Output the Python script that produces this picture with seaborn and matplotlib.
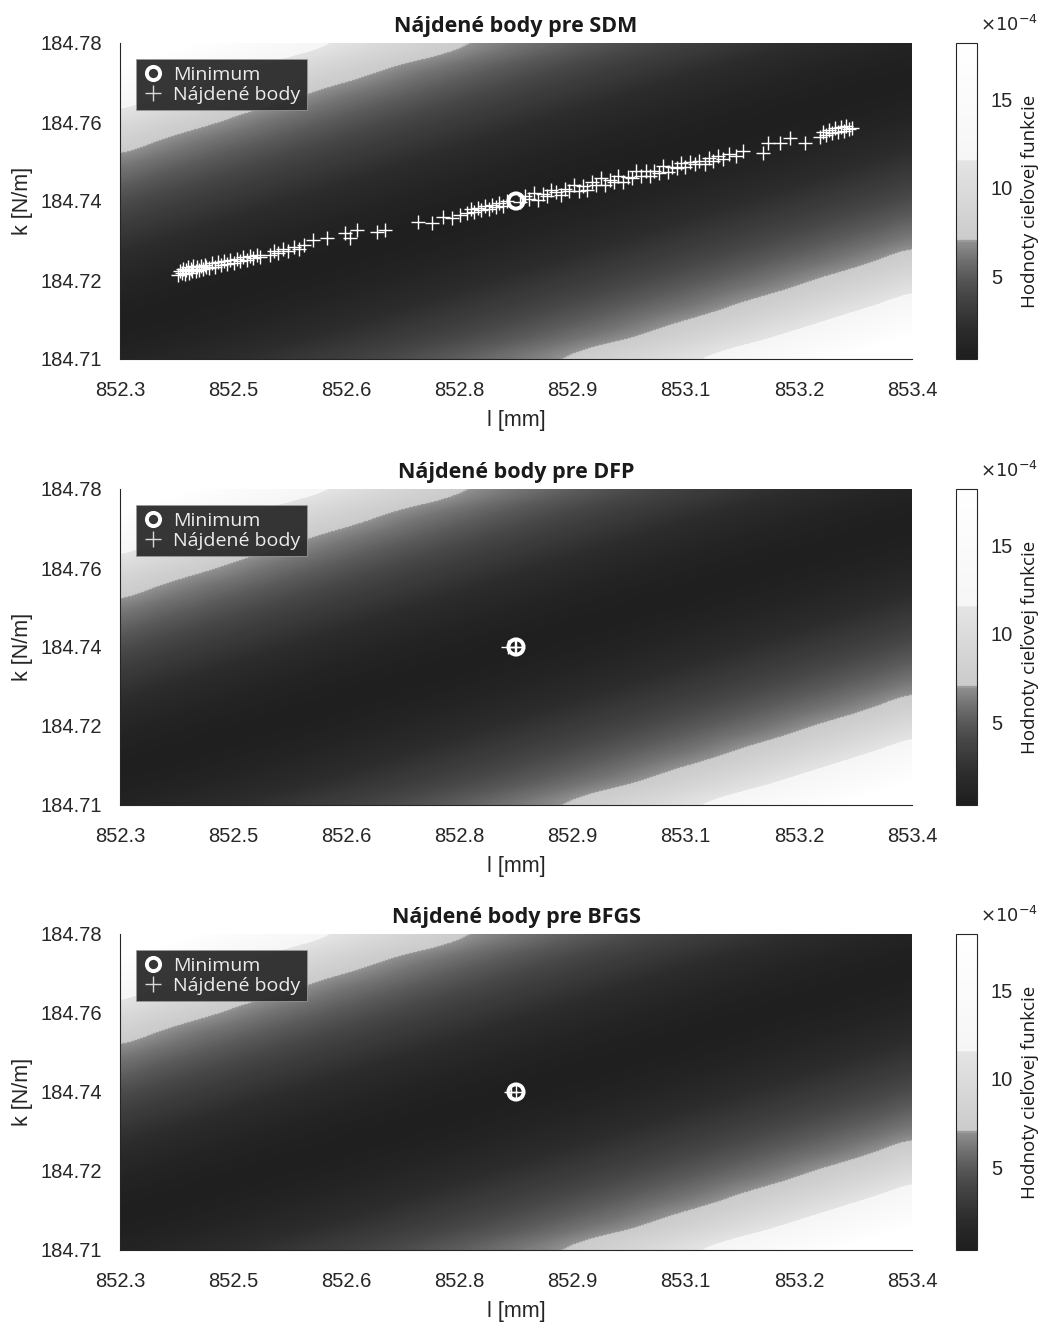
import numpy as np
import matplotlib
matplotlib.use("Agg")
import matplotlib.pyplot as plt
from matplotlib.colors import LinearSegmentedColormap
from matplotlib.lines import Line2D
import seaborn as sns

# --- data -----------------------------------------------------------------
# objective function on a grid (units of 1e-4)
l_grid = [852.30, 852.35, 852.40, 852.45, 852.50, 852.55, 852.60, 852.65, 852.70, 852.75, 852.80, 852.85,
          852.90, 852.95, 853.00, 853.05, 853.10, 853.15, 853.20, 853.25, 853.30, 853.35, 853.40]
k_grid = [184.710, 184.715, 184.720, 184.725, 184.730, 184.735, 184.740, 184.745,
          184.750, 184.755, 184.760, 184.765, 184.770, 184.775, 184.780]
f_grid = [
    [0.98, 1.26, 1.58, 1.95, 2.36, 2.80, 3.28, 3.78, 4.33, 4.90, 5.50, 6.13, 6.78, 7.63, 8.70, 9.91, 11.28, 12.80, 14.48, 16.31, 18.29, 20.43, 22.72],
    [0.58, 0.75, 0.98, 1.26, 1.58, 1.95, 2.36, 2.80, 3.28, 3.78, 4.33, 4.90, 5.50, 6.13, 6.78, 7.63, 8.70, 9.91, 11.28, 12.80, 14.48, 16.31, 18.29],
    [0.58, 0.50, 0.58, 0.75, 0.98, 1.26, 1.58, 1.95, 2.36, 2.80, 3.28, 3.78, 4.33, 4.90, 5.50, 6.13, 6.78, 7.63, 8.70, 9.91, 11.28, 12.80, 14.48],
    [0.98, 0.75, 0.58, 0.50, 0.58, 0.75, 0.98, 1.26, 1.58, 1.95, 2.36, 2.80, 3.28, 3.78, 4.33, 4.90, 5.50, 6.13, 6.78, 7.63, 8.70, 9.91, 11.28],
    [1.58, 1.26, 0.98, 0.75, 0.58, 0.50, 0.58, 0.75, 0.98, 1.26, 1.58, 1.95, 2.36, 2.80, 3.28, 3.78, 4.33, 4.90, 5.50, 6.13, 6.78, 7.63, 8.70],
    [2.36, 1.95, 1.58, 1.26, 0.98, 0.75, 0.58, 0.50, 0.58, 0.75, 0.98, 1.26, 1.58, 1.95, 2.36, 2.80, 3.28, 3.78, 4.33, 4.90, 5.50, 6.13, 6.78],
    [3.28, 2.80, 2.36, 1.95, 1.58, 1.26, 0.98, 0.75, 0.58, 0.50, 0.58, 0.75, 0.98, 1.26, 1.58, 1.95, 2.36, 2.80, 3.28, 3.78, 4.33, 4.90, 5.50],
    [4.33, 3.78, 3.28, 2.80, 2.36, 1.95, 1.58, 1.26, 0.98, 0.75, 0.58, 0.50, 0.58, 0.75, 0.98, 1.26, 1.58, 1.95, 2.36, 2.80, 3.28, 3.78, 4.33],
    [5.50, 4.90, 4.33, 3.78, 3.28, 2.80, 2.36, 1.95, 1.58, 1.26, 0.98, 0.75, 0.58, 0.50, 0.58, 0.75, 0.98, 1.26, 1.58, 1.95, 2.36, 2.80, 3.28],
    [6.78, 6.13, 5.50, 4.90, 4.33, 3.78, 3.28, 2.80, 2.36, 1.95, 1.58, 1.26, 0.98, 0.75, 0.58, 0.50, 0.58, 0.75, 0.98, 1.26, 1.58, 1.95, 2.36],
    [8.70, 7.63, 6.78, 6.13, 5.50, 4.90, 4.33, 3.78, 3.28, 2.80, 2.36, 1.95, 1.58, 1.26, 0.98, 0.75, 0.58, 0.50, 0.58, 0.75, 0.98, 1.26, 1.58],
    [11.28, 9.91, 8.70, 7.63, 6.78, 6.13, 5.50, 4.90, 4.33, 3.78, 3.28, 2.80, 2.36, 1.95, 1.58, 1.26, 0.98, 0.75, 0.58, 0.50, 0.58, 0.75, 0.98],
    [14.48, 12.80, 11.28, 9.91, 8.70, 7.63, 6.78, 6.13, 5.50, 4.90, 4.33, 3.78, 3.28, 2.80, 2.36, 1.95, 1.58, 1.26, 0.98, 0.75, 0.58, 0.50, 0.58],
    [18.29, 16.31, 14.48, 12.80, 11.28, 9.91, 8.70, 7.63, 6.78, 6.13, 5.50, 4.90, 4.33, 3.78, 3.28, 2.80, 2.36, 1.95, 1.58, 1.26, 0.98, 0.75, 0.58],
    [22.72, 20.43, 18.29, 16.31, 14.48, 12.80, 11.28, 9.91, 8.70, 7.63, 6.78, 6.13, 5.50, 4.90, 4.33, 3.78, 3.28, 2.80, 2.36, 1.95, 1.58, 1.26, 0.98],
]

min_l = [852.85]
min_k = [184.745]

# found points - SDM
sdm_l = [852.381, 852.384, 852.386, 852.388, 852.390, 852.392, 852.394, 852.396, 852.398, 852.400,
         852.402, 852.405, 852.407, 852.410, 852.412, 852.415, 852.418, 852.420,
         852.424, 852.428, 852.432, 852.436, 852.440, 852.444, 852.449, 852.453, 852.458, 852.462,
         852.466, 852.471, 852.476, 852.480, 852.485, 852.490, 852.495,
         852.508, 852.514, 852.520, 852.527, 852.534, 852.541, 852.548, 852.556,
         852.568, 852.5875, 852.6125, 852.619, 852.629, 852.657, 852.668, 852.714, 852.733, 852.749, 852.761, 852.772,
         852.782, 852.787, 852.792, 852.797, 852.802, 852.807, 852.812, 852.817, 852.822, 852.827, 852.832, 852.838,
         852.856, 852.862, 852.868, 852.875, 852.881, 852.887, 852.893, 852.899, 852.906, 852.912,
         852.918, 852.924, 852.930, 852.937, 852.943, 852.949, 852.955, 852.961, 852.968, 852.974,
         852.980, 852.986, 852.992, 852.999, 853.005, 853.011, 853.017, 853.023, 853.030, 853.036,
         853.042, 853.048, 853.054, 853.061, 853.067, 853.073, 853.079, 853.085, 853.092, 853.098, 853.104,
         853.112, 853.118, 853.124, 853.131, 853.138, 853.146, 853.155, 853.165,
         853.193, 853.200, 853.2167, 853.2306, 853.2514,
         853.272, 853.276, 853.281, 853.285, 853.289, 853.293, 853.297, 853.301, 853.305, 853.309, 853.313, 853.317]
sdm_k = [184.7286, 184.7296, 184.7290, 184.7300, 184.7289, 184.7297, 184.7303, 184.7291, 184.7300, 184.7294,
         184.7305, 184.7296, 184.7303, 184.7298, 184.7307, 184.7300, 184.7309, 184.7303,
         184.7301, 184.7312, 184.7304, 184.7315, 184.7308, 184.7316, 184.7310, 184.7319, 184.7313, 184.7322,
         184.7316, 184.7327, 184.7320, 184.7329, 184.7323, 184.7331, 184.7327,
         184.7330, 184.7339, 184.7334, 184.7344, 184.7339, 184.7348, 184.7343, 184.7352,
         184.7364, 184.7368, 184.7379, 184.7368, 184.7386, 184.7381, 184.7386, 184.7403, 184.7401, 184.7415, 184.7412, 184.7419,
         184.7423, 184.7433, 184.7426, 184.7435, 184.7430, 184.7439, 184.7433, 184.7442, 184.7437, 184.7446, 184.7440, 184.7449,
         184.7447, 184.7460, 184.7454, 184.7467, 184.7453, 184.7466, 184.7461, 184.7474, 184.7469, 184.7463,
         184.7477, 184.7472, 184.7485, 184.7473, 184.7483, 184.7475, 184.7491, 184.7486, 184.7500, 184.7486,
         184.7497, 184.7492, 184.7505, 184.7492, 184.7503, 184.7500, 184.7516, 184.7506, 184.7516, 184.7506,
         184.7517, 184.7513, 184.7527, 184.7515, 184.7526, 184.7524, 184.7534, 184.7525, 184.7536, 184.7531, 184.7538,
         184.7533, 184.7546, 184.7538, 184.7550, 184.7542, 184.7555, 184.7549, 184.7561,
         184.7556, 184.7578, 184.7578, 184.7590, 184.7578,
         184.7592, 184.7603, 184.7596, 184.7608, 184.7600, 184.7612, 184.7603, 184.7614, 184.7606, 184.7617, 184.7609, 184.7612]

# found points - DFP, BFGS (all sit on the minimum)
dfp_l = [852.839, 852.848, 852.850]
dfp_k = [184.745, 184.745, 184.7451]
bfgs_l = [852.843, 852.850]
bfgs_k = [184.745, 184.745]

methods = ["SDM", "DFP", "BFGS"]
points = {"SDM": (sdm_l, sdm_k), "DFP": (dfp_l, dfp_k), "BFGS": (bfgs_l, bfgs_k)}

x_ticklabels = ["852.3", "852.5", "852.6", "852.8", "852.9", "853.1", "853.2", "853.4"]
y_ticklabels = ["184.71", "184.72", "184.74", "184.76", "184.78"]
cbar_ticks = [5, 10, 15]

# --- style ----------------------------------------------------------------
sns.set_style("white")
plt.rcParams["font.family"] = ["Liberation Sans", "DejaVu Sans"]
ui_font = ["Open Sans", "DejaVu Sans"]

vmin, vmax = 0.3, 18.2
def pos(v):
    return (v - vmin) / (vmax - vmin)

# grey map: dark ramp, step to light grey at ~7, step to white at ~11.5
cmap = LinearSegmentedColormap.from_list("objgray", [
    (0.0, "#1e1e1e"), (pos(2.0), "#2c2c2c"), (pos(4.0), "#474747"), (pos(5.0), "#5a5a5a"),
    (pos(6.0), "#737373"), (pos(6.95), "#909090"),
    (pos(7.05), "#cbcbcb"), (pos(11.5), "#e4e4e4"), (pos(11.6), "#f6f6f6"), (1.0, "#ffffff")])
cmap.set_over("#ffffff")
cmap.set_under("#1e1e1e")

fig = plt.figure(figsize=(10.42, 13.24), dpi=100)
W, H = 1042, 1324
ax_tops = [43, 489, 934]
ax_h = 316

dl = (l_grid[1] - l_grid[0]) / 2
dk = (k_grid[1] - k_grid[0]) / 2
extent = [l_grid[0] - dl, l_grid[-1] + dl, k_grid[0] - dk, k_grid[-1] + dk]

for method, top in zip(methods, ax_tops):
    ax = fig.add_axes([120 / W, 1 - (top + ax_h) / H, 792 / W, ax_h / H])
    cax = fig.add_axes([956 / W, 1 - (top + ax_h) / H, 21 / W, ax_h / H])

    im = ax.imshow(np.array(f_grid), origin="lower", extent=extent, aspect="auto",
                   cmap=cmap, vmin=vmin, vmax=vmax, interpolation="catrom",
                   interpolation_stage="data")

    pl, pk = points[method]
    sns.scatterplot(x=pl, y=pk, ax=ax, marker="+", color="white", s=90,
                    linewidth=1.0, zorder=3, legend=False)
    ax.scatter(min_l, min_k, marker="o", s=120, facecolor="none",
               edgecolor="white", linewidth=2.8, zorder=4)

    ax.set_xlim(l_grid[0], l_grid[-1])
    ax.set_ylim(k_grid[0], k_grid[-1])
    ax.set_xticks(np.linspace(l_grid[0], l_grid[-1], len(x_ticklabels)))
    ax.set_xticklabels(x_ticklabels)
    ax.set_yticks(np.linspace(k_grid[0], k_grid[-1], len(y_ticklabels)))
    ax.set_yticklabels(y_ticklabels)
    ax.tick_params(axis="both", direction="out", length=5, width=0.8, color="#262626",
                   labelsize=14.5, labelcolor="#262626")
    ax.tick_params(axis="x", pad=11)
    ax.tick_params(axis="y", pad=8)
    for side in ["top", "right"]:
        ax.spines[side].set_visible(False)
    for side in ["left", "bottom"]:
        ax.spines[side].set_color("#262626")
        ax.spines[side].set_linewidth(0.8)

    ax.set_xlabel("l [mm]", fontsize=15.5, color="#262626", labelpad=7)
    ax.set_ylabel("k [N/m]", fontsize=15.5, color="#262626", labelpad=5)
    ax.set_title(f"Nájdené body pre {method}", fontsize=15.5, fontweight="bold",
                 family=ui_font, color="#1a1a1a", pad=8)

    handles = [
        Line2D([], [], linestyle="none", marker="o", markersize=9.5, markerfacecolor="none",
               markeredgecolor="white", markeredgewidth=2.8, label="Minimum"),
        Line2D([], [], linestyle="none", marker="+", markersize=12, color="#d9d9d9",
               markeredgewidth=1.0, label="Nájdené body"),
    ]
    leg = ax.legend(handles=handles, loc="upper left", bbox_to_anchor=(0.02, 0.95),
                    frameon=True, fancybox=False, framealpha=0.95, borderpad=0.35,
                    handletextpad=0.45, handlelength=1.1, labelspacing=0.1,
                    prop={"family": ui_font, "size": 14}, borderaxespad=0.0)
    leg.get_frame().set_facecolor("#2b2b2b")
    leg.get_frame().set_edgecolor("#999999")
    leg.get_frame().set_linewidth(0.6)
    for t in leg.get_texts():
        t.set_color("#ececec")

    cb = fig.colorbar(im, cax=cax, ticks=cbar_ticks, extend="neither")
    cb.outline.set_edgecolor("#262626")
    cb.outline.set_linewidth(0.8)
    cax.tick_params(labelsize=14.5, labelcolor="#262626", length=4, width=0.8, color="#262626",
                    direction="in", pad=10)
    cax.set_ylabel("Hodnoty cieľovej funkcie", fontsize=13.5, family=ui_font,
                   color="#1a1a1a", labelpad=6)
    cax.text(1.15, 1.025, r"$\times10^{-4}$", transform=cax.transAxes, fontsize=13,
             color="#262626", ha="left", va="bottom")

fig.savefig("out.png", dpi=100)
